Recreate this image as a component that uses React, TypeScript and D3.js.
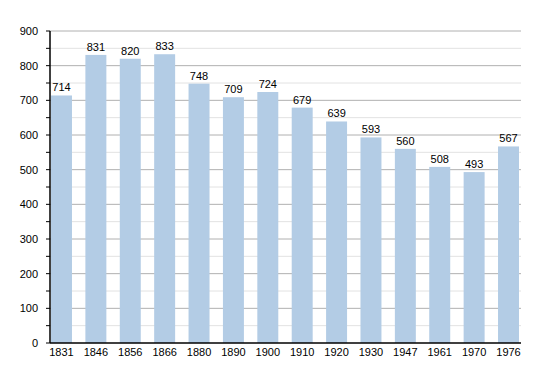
import React from 'react';
import * as d3 from 'd3';

const years = ['1831', '1846', '1856', '1866', '1880', '1890', '1900', '1910', '1920', '1930', '1947', '1961', '1970', '1976'];
const population = [714, 831, 820, 833, 748, 709, 724, 679, 639, 593, 560, 508, 493, 567];
const yTicks = [0, 100, 200, 300, 400, 500, 600, 700, 800, 900];

const App = () => {
    const ref = React.useRef<SVGSVGElement>(null);

    React.useEffect(() => {
        const svg = d3.select(ref.current);
        svg.selectAll('*').remove();

        const left = 50, right = 521, top = 31, bottom = 343;
        const font = 'Liberation Sans, Arial, sans-serif';

        const x = d3.scaleBand()
            .domain(years)
            .range([51, 519])
            .paddingInner(0.39)
            .paddingOuter(0);

        const y = d3.scaleLinear()
            .domain([0, 900])
            .range([bottom, top]);

        const minor = d3.range(50, 900, 100);

        // grid lines
        svg.append('g').selectAll('line')
            .data(minor)
            .join('line')
            .attr('x1', left).attr('x2', right)
            .attr('y1', d => y(d)).attr('y2', d => y(d))
            .attr('stroke', '#e2e2e2')
            .attr('stroke-width', 1);

        svg.append('g').selectAll('line')
            .data(yTicks.filter(d => d > 0))
            .join('line')
            .attr('x1', left).attr('x2', right)
            .attr('y1', d => y(d)).attr('y2', d => y(d))
            .attr('stroke', '#b0b0b0')
            .attr('stroke-width', 1);

        // bars
        svg.append('g').selectAll('rect')
            .data(population)
            .join('rect')
            .attr('x', (d, i) => x(years[i])!)
            .attr('y', d => y(d))
            .attr('width', x.bandwidth())
            .attr('height', d => bottom - y(d))
            .attr('fill', '#b3cce5');

        // value labels
        svg.append('g').selectAll('text')
            .data(population)
            .join('text')
            .attr('x', (d, i) => x(years[i])! + x.bandwidth() / 2)
            .attr('y', d => y(d) - 4)
            .attr('text-anchor', 'middle')
            .style('font-family', font)
            .style('font-size', '11px')
            .attr('fill', '#000')
            .text(d => d);

        // y axis ticks
        svg.append('g').selectAll('line')
            .data(d3.range(0, 901, 50))
            .join('line')
            .attr('x1', left - 4).attr('x2', left)
            .attr('y1', d => y(d)).attr('y2', d => y(d))
            .attr('stroke', '#000');

        svg.append('g').selectAll('text')
            .data(yTicks)
            .join('text')
            .attr('x', 38)
            .attr('y', d => y(d) + 4)
            .attr('text-anchor', 'end')
            .style('font-family', font)
            .style('font-size', '11px')
            .text(d => d);

        // x labels
        svg.append('g').selectAll('text')
            .data(years)
            .join('text')
            .attr('x', d => x(d)! + x.bandwidth() / 2)
            .attr('y', 356)
            .attr('text-anchor', 'middle')
            .style('font-family', font)
            .style('font-size', '11px')
            .text(d => d);

        // axis lines
        svg.append('line')
            .attr('x1', left).attr('x2', left)
            .attr('y1', top).attr('y2', bottom)
            .attr('stroke', '#000').attr('stroke-width', 1.5);
        svg.append('line')
            .attr('x1', left).attr('x2', right)
            .attr('y1', bottom).attr('y2', bottom)
            .attr('stroke', '#000').attr('stroke-width', 1.5);
    }, []);

    return (
        <svg ref={ref} width={550} height={373}
            style={{ position: 'absolute', left: 0, top: 0, background: '#fff' }} />
    );
};

export default App;
